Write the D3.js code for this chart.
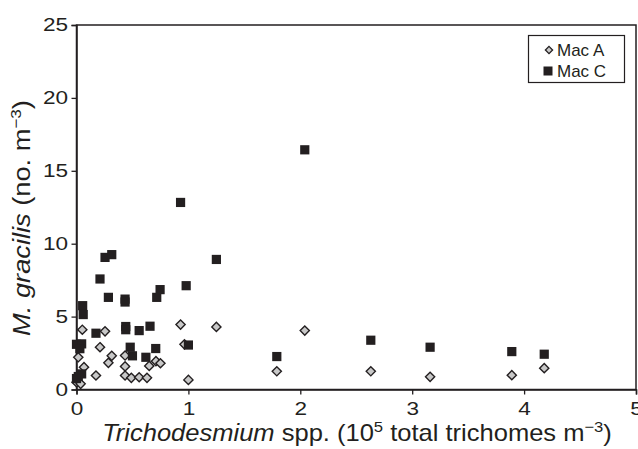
<!DOCTYPE html>
<html><head><meta charset="utf-8">
<script src="https://cdn.jsdelivr.net/npm/d3@7"></script>
<style>body{margin:0;background:#fff}svg{display:block}text{font-family:"Liberation Sans",Arial,Helvetica,sans-serif;fill:#231f20}</style>
</head><body>
<svg id="c" width="638" height="449"></svg>
<script>
const xTicks = [0,1,2,3,4,5];
const yTicks = [0,5,10,15,20,25];
const seriesNames = ["Mac A","Mac C"];
const macAx = [0.0,0.037,0.016,0.052,0.067,0.174,0.21,0.255,0.285,0.315,0.434,0.434,0.434,0.49,0.56,0.63,0.65,0.71,0.75,0.93,0.965,1.0,1.25,1.79,2.04,2.63,3.16,3.89,4.18];
const macAy = [0.5,0.39,2.21,4.1,1.53,0.96,2.9,3.99,1.83,2.31,2.33,1.58,0.96,0.80,0.84,0.80,1.62,1.94,1.80,4.45,3.1,0.66,4.29,1.25,4.04,1.25,0.87,0.98,1.46];
const macCx = [0.0,0.016,0.046,0.0,0.046,0.03,0.055,0.06,0.174,0.21,0.255,0.315,0.285,0.434,0.434,0.44,0.44,0.48,0.50,0.56,0.62,0.657,0.708,0.717,0.747,0.93,0.98,1.0,1.25,1.79,2.04,2.63,3.16,3.89,4.18];
const macCy = [0.75,0.89,1.07,3.1,3.13,2.8,5.75,5.14,3.86,7.58,9.06,9.25,6.32,6.2,6.0,4.32,4.1,2.9,2.31,4.04,2.21,4.34,2.81,6.32,6.85,12.83,7.12,3.05,8.92,2.26,16.44,3.38,2.9,2.6,2.42];

const svg = d3.select("#c");
const L=76.5, R=636, T=25, B=389.5;
const x = d3.scaleLinear().domain([0,5]).range([L,R]);
const y = d3.scaleLinear().domain([0,25]).range([B,T]);
const ink = "#231f20";

svg.append("rect").attr("x",L).attr("y",T).attr("width",R-L).attr("height",B-T)
  .attr("fill","none").attr("stroke",ink).attr("stroke-width",1.5);

const xa = svg.append("g").attr("transform",`translate(0,${B})`)
  .call(d3.axisBottom(x).tickValues(xTicks).tickFormat(d3.format("d")).tickSize(5).tickPadding(7.5));
const ya = svg.append("g").attr("transform",`translate(${L},0)`)
  .call(d3.axisLeft(y).tickValues(yTicks).tickFormat(d3.format("d")).tickSize(5).tickPadding(3.5));
[xa,ya].forEach(g=>{
  g.select(".domain").attr("stroke",ink).attr("stroke-width",1.5);
  g.selectAll(".tick line").attr("stroke",ink).attr("stroke-width",1.3);
  g.selectAll(".tick text").attr("font-size",18.5).attr("fill",ink)
    .style("font-family",'"Liberation Sans",Arial,sans-serif')
    .each(function(){ const w=this.getComputedTextLength(); d3.select(this).attr("textLength",w*1.22).attr("lengthAdjust","spacingAndGlyphs"); });
});

const macA = macAx.map((v,i)=>({x:v,y:macAy[i]}));
const macC = macCx.map((v,i)=>({x:v,y:macCy[i]}));
const diamondPath = "M0,-4.6L4.6,0L0,4.6L-4.6,0Z";

svg.append("g").selectAll("path").data(macA).join("path")
  .attr("d",diamondPath)
  .attr("transform",d=>`translate(${x(d.x)},${y(d.y)})`)
  .attr("fill","#c8c8c8").attr("stroke",ink).attr("stroke-width",1.4);
svg.append("g").selectAll("rect").data(macC).join("rect")
  .attr("x",d=>x(d.x)-4.6).attr("y",d=>y(d.y)-4.6).attr("width",9.2).attr("height",9.2)
  .attr("fill",ink);

// legend
const lg = svg.append("g");
lg.append("rect").attr("x",528.5).attr("y",35.5).attr("width",96).attr("height",47)
  .attr("fill","#fff").attr("stroke",ink).attr("stroke-width",1.2);
lg.append("path").attr("d","M0,-3.6L3.6,0L0,3.6L-3.6,0Z").attr("transform","translate(549,50)")
  .attr("fill","#c8c8c8").attr("stroke",ink).attr("stroke-width",1.3);
lg.append("rect").attr("x",543.5).attr("y",66.5).attr("width",9).attr("height",9).attr("fill",ink);
lg.selectAll("text").data(seriesNames).join("text")
  .attr("x",557).attr("y",(d,i)=>56+i*21).attr("font-size",17).text(d=>d);

function fit(t, w){
  const n = t.node().getComputedTextLength();
  return n>0 ? w/n : 1;
}

// x title
const xt = svg.append("text").attr("text-anchor","middle").attr("font-size",23);
xt.append("tspan").attr("font-style","italic").text("Trichodesmium");
xt.append("tspan").text(" spp. (10");
xt.append("tspan").attr("dy",-9).attr("font-size",15).text("5");
xt.append("tspan").attr("dy",9).text(" total trichomes m");
xt.append("tspan").attr("dy",-9).attr("font-size",15).text("\u22123");
xt.append("tspan").attr("dy",9).text(")");
const sx = fit(xt, 510);
xt.attr("transform",`translate(357,441) scale(${sx},1)`);

const yt = svg.append("text").attr("text-anchor","middle").attr("font-size",24);
yt.append("tspan").attr("font-style","italic").text("M. gracilis");
yt.append("tspan").text(" (no. m");
yt.append("tspan").attr("dy",-9).attr("font-size",15).text("\u22123");
yt.append("tspan").attr("dy",9).text(")");
const sy = fit(yt, 236);
yt.attr("transform",`translate(30,218) rotate(-90) scale(${sy},1)`);
</script>
</body></html>
